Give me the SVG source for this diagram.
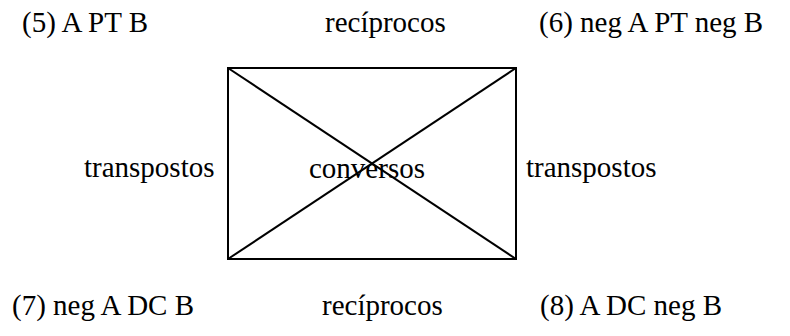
<svg xmlns="http://www.w3.org/2000/svg" width="790" height="336" viewBox="0 0 790 336">
<style>
.t{font-family:'Times New Roman','Liberation Serif',serif;font-size:29px;fill:#000}
.ln{stroke:#000;stroke-width:2;fill:none}
</style>
<rect width="790" height="336" fill="#fff"/>
<g id="connectors">
<rect class="ln" x="228" y="68" width="288" height="191"/>
<line class="ln" x1="228" y1="68" x2="516" y2="259"/>
<line class="ln" x1="516" y1="68" x2="228" y2="259"/>
</g>
<g id="n5"><text class="t" x="22" y="32">(5) A PT B</text></g>
<g id="n6"><text class="t" x="539" y="32">(6) neg A PT neg B</text></g>
<g id="n7"><text class="t" x="12" y="315">(7) neg A DC B</text></g>
<g id="n8"><text class="t" x="540" y="315">(8) A DC neg B</text></g>
<g id="labels">
<text class="t" x="325" y="32">recíprocos</text>
<text class="t" x="322" y="315">recíprocos</text>
<text class="t" x="84" y="177">transpostos</text>
<text class="t" x="526" y="177">transpostos</text>
<text class="t" x="309" y="178">conversos</text>
</g>
</svg>
